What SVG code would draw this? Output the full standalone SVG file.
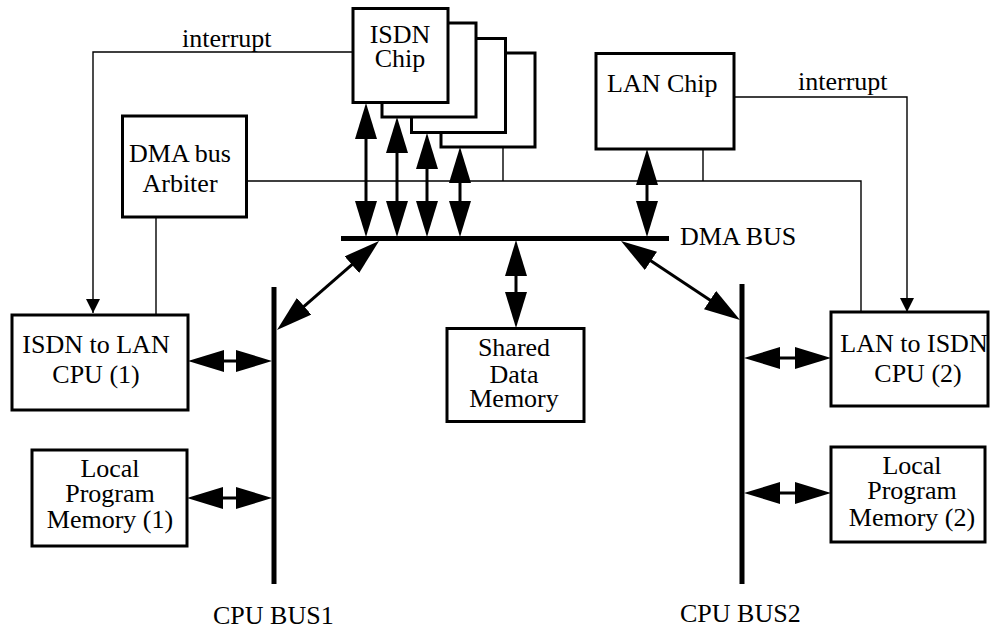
<svg xmlns="http://www.w3.org/2000/svg" width="991" height="631" viewBox="0 0 991 631">
<style>
.box{fill:#fff;stroke:#000;stroke-width:3}
.thin{fill:none;stroke:#000;stroke-width:1.4}
.bus{fill:none;stroke:#000;stroke-width:5}
.arr{fill:none;stroke:#000;stroke-width:3;marker-start:url(#ah);marker-end:url(#ah)}
text{font-family:"Liberation Serif","Times New Roman",serif;font-size:26px;fill:#000}
.c{text-anchor:middle}
</style>
<defs>
<marker id="ah" viewBox="0 0 36 22" refX="26" refY="11" markerWidth="36" markerHeight="22" markerUnits="userSpaceOnUse" orient="auto-start-reverse">
<path d="M0,0 L36,11 L0,22 z" fill="#000"/>
</marker>
<marker id="sh" viewBox="0 0 14 14" refX="14" refY="7" markerWidth="14" markerHeight="14" markerUnits="userSpaceOnUse" orient="auto">
<path d="M0,0 L14,7 L0,14 z" fill="#000"/>
</marker>
</defs>

<g id="connectors">
<path class="thin" d="M353,52 H93 V313" marker-end="url(#sh)"/>
<path class="thin" d="M734,97 H907 V312" marker-end="url(#sh)"/>
<path class="thin" d="M247,181 H861 V312"/>
<path class="thin" d="M156,217 V315"/>
<path class="thin" d="M703,149 V181"/>
<path class="thin" d="M503,147 V181"/>
<line class="arr" x1="366" y1="113" x2="366" y2="227"/>
<line class="arr" x1="397" y1="127" x2="397" y2="227"/>
<line class="arr" x1="427" y1="143" x2="427" y2="227"/>
<line class="arr" x1="460" y1="157" x2="460" y2="227"/>
<line class="arr" x1="647" y1="159" x2="647" y2="227"/>
<line class="arr" x1="516" y1="250" x2="516" y2="318"/>
<line class="arr" x1="371.5" y1="247.6" x2="284.5" y2="323.4"/>
<line class="arr" x1="629.3" y1="246.5" x2="731.7" y2="314.5"/>
<line class="arr" x1="198" y1="361" x2="262" y2="361"/>
<line class="arr" x1="197" y1="498" x2="262" y2="498"/>
<line class="arr" x1="754" y1="358" x2="821" y2="358"/>
<line class="arr" x1="754" y1="493" x2="821" y2="493"/>
</g>

<g id="dma-bus">
<line class="bus" x1="341" y1="238.5" x2="669" y2="238.5"/>
<text x="680" y="245">DMA BUS</text>
</g>
<g id="cpu-bus1">
<line class="bus" x1="274" y1="287" x2="274" y2="584"/>
<text x="213" y="624">CPU BUS1</text>
</g>
<g id="cpu-bus2">
<line class="bus" x1="742" y1="284" x2="742" y2="584"/>
<text x="680" y="622">CPU BUS2</text>
</g>

<g id="isdn-chip">
<rect class="box" x="441" y="53" width="94" height="94"/>
<rect class="box" x="411.5" y="38.5" width="94" height="94"/>
<rect class="box" x="382" y="23" width="94" height="94"/>
<rect class="box" x="353" y="8.5" width="95" height="94"/>
<text class="c" x="400" y="43">ISDN</text>
<text class="c" x="400" y="67">Chip</text>
</g>

<g id="interrupt-left"><text x="182" y="47">interrupt</text></g>
<g id="interrupt-right"><text x="798" y="90">interrupt</text></g>

<g id="lan-chip">
<rect class="box" x="596" y="53.5" width="138" height="95.5"/>
<text x="607" y="92">LAN Chip</text>
</g>

<g id="dma-arbiter">
<rect class="box" x="122.5" y="116" width="124" height="101"/>
<text class="c" x="180" y="162">DMA bus</text>
<text class="c" x="180" y="192">Arbiter</text>
</g>

<g id="cpu1">
<rect class="box" x="12" y="315" width="176" height="95"/>
<text class="c" x="96" y="353">ISDN to LAN</text>
<text class="c" x="96" y="383">CPU (1)</text>
</g>

<g id="lpm1">
<rect class="box" x="32" y="450" width="155" height="96"/>
<text class="c" x="110" y="477">Local</text>
<text class="c" x="110" y="502">Program</text>
<text class="c" x="110" y="528">Memory (1)</text>
</g>

<g id="shared-memory">
<rect class="box" x="447" y="328.5" width="137" height="93"/>
<text class="c" x="514" y="356">Shared</text>
<text class="c" x="514" y="383">Data</text>
<text class="c" x="514" y="407">Memory</text>
</g>

<g id="cpu2">
<rect class="box" x="831" y="312" width="157" height="94"/>
<text class="c" x="914" y="352">LAN to ISDN</text>
<text class="c" x="918" y="382">CPU (2)</text>
</g>

<g id="lpm2">
<rect class="box" x="831" y="447" width="154" height="95"/>
<text class="c" x="912" y="474">Local</text>
<text class="c" x="912" y="499">Program</text>
<text class="c" x="912" y="526">Memory (2)</text>
</g>
</svg>
